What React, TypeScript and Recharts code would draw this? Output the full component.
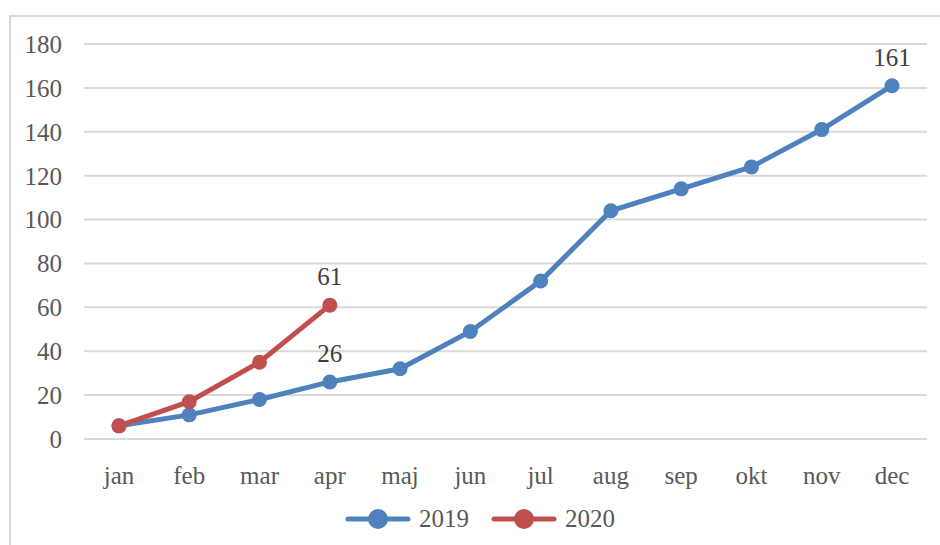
import React from "react";
import { LineChart, Line, XAxis, YAxis, CartesianGrid } from "recharts";

const months = ["jan", "feb", "mar", "apr", "maj", "jun", "jul", "aug", "sep", "okt", "nov", "dec"];
const values2019 = [6, 11, 18, 26, 32, 49, 72, 104, 114, 124, 141, 161];
const values2020: (number | null)[] = [6, 17, 35, 61, null, null, null, null, null, null, null, null];
const yTicks = [0, 20, 40, 60, 80, 100, 120, 140, 160, 180];
const labeled2019 = ["apr", "dec"];
const labeled2020 = ["apr"];
const seriesNames = ["2019", "2020"];

const BLUE = "#4f81bd";
const RED = "#c0504d";
const TEXT = "#595959";
const GRID = "#d9d9d9";
const FONT = "'Liberation Serif', 'DejaVu Serif', serif";
const FS = 25;

const data = months.map((m, i) => ({ month: m, y2019: values2019[i], y2020: values2020[i] }));

const makeLabel = (labeled: string[]) => (props: any) => {
  const { x, y, index, value } = props;
  if (value == null || !labeled.includes(months[index])) return null;
  return (
    <text x={x} y={y - 20} textAnchor="middle" fill="#404040" fontSize={FS} fontFamily={FONT}>
      {value}
    </text>
  );
};

const LegendBlock = () => {
  const items = [
    { name: seriesNames[0], color: BLUE },
    { name: seriesNames[1], color: RED },
  ];
  return (
    <div
      style={{
        position: "absolute",
        left: 345,
        top: 507,
        display: "flex",
        alignItems: "center",
        fontFamily: FONT,
        fontSize: FS,
        color: TEXT,
        lineHeight: "24px",
      }}
    >
      {items.map((it) => (
        <div key={it.name} style={{ display: "flex", alignItems: "center", marginRight: 22 }}>
          <svg width={66} height={24} style={{ marginRight: 8 }}>
            <line x1={3} y1={12} x2={63} y2={12} stroke={it.color} strokeWidth={5} strokeLinecap="round" />
            <circle cx={33} cy={12} r={10} fill={it.color} />
          </svg>
          <span>{it.name}</span>
        </div>
      ))}
    </div>
  );
};

export default function App() {
  return (
    <div style={{ position: "fixed", left: 0, top: 0, width: 940, height: 545, background: "#fff", overflow: "hidden" }}>
      <div
        style={{
          position: "absolute",
          left: 9,
          top: 15,
          width: 950,
          height: 560,
          border: `2px solid ${GRID}`,
          boxSizing: "border-box",
        }}
      />
      <div style={{ position: "absolute", left: 0, top: 0 }}>
        <LineChart width={940} height={545} data={data} margin={{ top: 44, right: 13, bottom: 76, left: 0 }}>
          <CartesianGrid vertical={false} stroke={GRID} strokeWidth={2} />
          <XAxis
            dataKey="month"
            height={30}
            axisLine={false}
            tickLine={false}
            tickSize={0}
            tickMargin={27}
            padding={{ left: 35, right: 35 }}
            tick={{ fill: TEXT, fontSize: FS, fontFamily: FONT }}
            interval={0}
          />
          <YAxis
            width={84}
            domain={[0, 180]}
            ticks={yTicks}
            axisLine={false}
            tickLine={false}
            tickSize={0}
            tickMargin={22}
            tick={{ fill: TEXT, fontSize: FS, fontFamily: FONT }}
            interval={0}
          />
          <Line
            dataKey="y2019"
            name={seriesNames[0]}
            stroke={BLUE}
            strokeWidth={5}
            dot={{ r: 7.5, fill: BLUE, stroke: BLUE, strokeWidth: 0 }}
            activeDot={false}
            isAnimationActive={false}
            label={makeLabel(labeled2019)}
          />
          <Line
            dataKey="y2020"
            name={seriesNames[1]}
            stroke={RED}
            strokeWidth={5}
            dot={{ r: 7.5, fill: RED, stroke: RED, strokeWidth: 0 }}
            activeDot={false}
            isAnimationActive={false}
            connectNulls={false}
            label={makeLabel(labeled2020)}
          />
        </LineChart>
      </div>
      <LegendBlock />
    </div>
  );
}
